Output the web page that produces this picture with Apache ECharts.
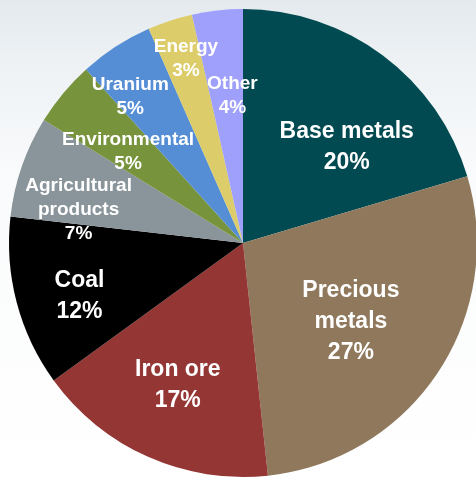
<!DOCTYPE html>
<html>
<head>
<meta charset="utf-8">
<style>
  html, body { margin: 0; padding: 0; }
  #chart { width: 476px; height: 478px; }
</style>
<script src="https://cdn.jsdelivr.net/npm/echarts@6/dist/echarts.min.js"></script>
</head>
<body>
<div id="chart"></div>
<script>
const categories = ['Base metals', 'Precious metals', 'Iron ore', 'Coal', 'Agricultural products',
                    'Environmental', 'Uranium', 'Energy', 'Other'];
const values = [20.4, 27.9, 16.7, 11.8, 7.0, 4.5, 5.1, 3.1, 3.5];
const shownPercent = [20, 27, 17, 12, 7, 5, 5, 3, 4];
const colors = ['#024A51', '#8F785B', '#933634', '#000000', '#8A949B',
                '#77933C', '#558ED5', '#DCCD6A', '#9F9FFC'];
const wrapped = ['Precious metals', 'Agricultural products'];
const smallLabels = ['Agricultural products', 'Environmental', 'Uranium', 'Energy', 'Other'];
// label nudges from the default inner position (style only)
const labelNudge = [[32, 0], [8, 12], [-16.5, 32], [-47.5, 23], [-51, 6], [-22.7, -14], [-47.5, -46], [-19.6, -70], [2.6, -28]];

const chart = echarts.init(document.getElementById('chart'), null, { renderer: 'canvas' });

const data = categories.map((name, i) => {
  const small = smallLabels.indexOf(name) >= 0;
  return {
    name: name,
    value: values[i],
    itemStyle: { color: colors[i] },
    label: {
      fontSize: small ? 19 : 23,
      lineHeight: small ? 24 : 31
    }
  };
});

chart.setOption({
  animation: false,
  backgroundColor: {
    type: 'linear', x: 0, y: 0, x2: 0, y2: 1,
    colorStops: [
      { offset: 0, color: '#e3e9ed' },
      { offset: 0.12, color: '#edf1f4' },
      { offset: 0.38, color: '#fafbfc' },
      { offset: 1, color: '#ffffff' }
    ]
  },
  series: [{
    type: 'pie',
    center: [243, 243],
    radius: 234,
    startAngle: 90,
    clockwise: true,
    avoidLabelOverlap: false,
    itemStyle: { borderWidth: 0 },
    emphasis: { disabled: true },
    label: {
      show: true,
      position: 'inside',
      color: '#ffffff',
      fontFamily: '"Liberation Sans", Arial, sans-serif',
      fontWeight: 'bold',
      align: 'center',
      formatter: function (p) {
        const nm = wrapped.indexOf(p.name) >= 0 ? p.name.replace(' ', '\n') : p.name;
        return nm + '\n' + shownPercent[p.dataIndex] + '%';
      }
    },
    labelLine: { show: false },
    labelLayout: function (params) {
      const n = labelNudge[params.dataIndex];
      return { dx: n[0], dy: n[1] };
    },
    data: data
  }]
});
</script>
</body>
</html>
